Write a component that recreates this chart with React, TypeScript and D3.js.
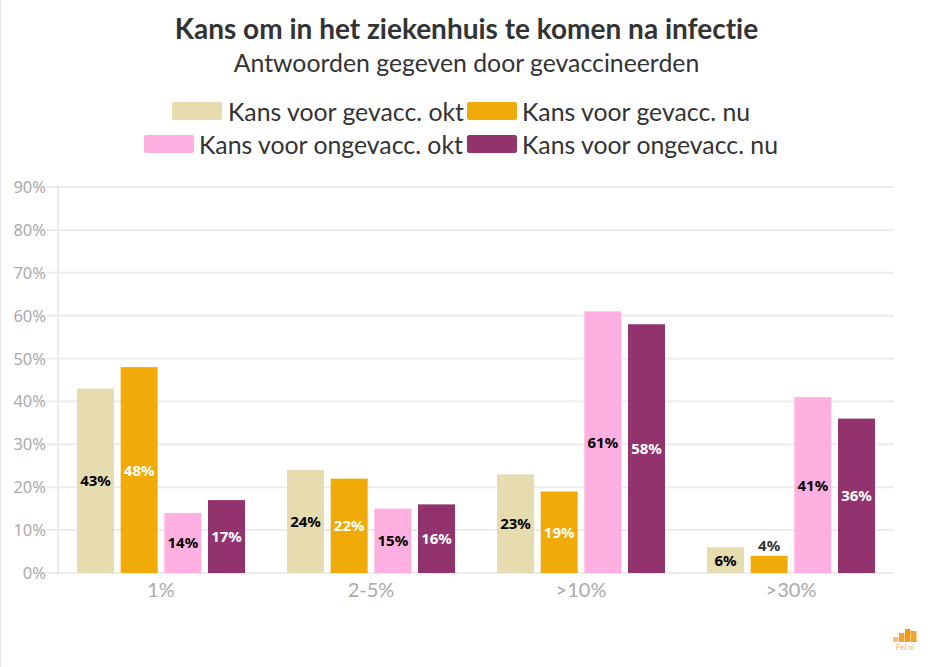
import React, { useEffect, useRef } from "react";
import * as d3 from "d3";

const categories = ["1%", "2-5%", ">10%", ">30%"];
const seriesNames = ["Kans voor gevacc. okt", "Kans voor gevacc. nu", "Kans voor ongevacc. okt", "Kans voor ongevacc. nu"];
const gevaccOkt = [43, 24, 23, 6];
const gevaccNu = [48, 22, 19, 4];
const ongevaccOkt = [14, 15, 61, 41];
const ongevaccNu = [17, 16, 58, 36];
const colors = ["#e6dcb0", "#f0ab08", "#ffb0e0", "#93336e"];
const labelColors = ["#000000", "#ffffff", "#000000", "#ffffff"];
const yTicks = [0, 10, 20, 30, 40, 50, 60, 70, 80, 90];
const FONT = "Lato, 'Open Sans', sans-serif";
const NUM_FONT = "'Noto Sans', sans-serif";

export default function App() {
  const ref = useRef<SVGSVGElement>(null);
  useEffect(() => {
    const svg = d3.select(ref.current!);
    svg.selectAll("*").remove();
    const all = [gevaccOkt, gevaccNu, ongevaccOkt, ongevaccNu];
    const y = d3.scaleLinear().domain([0, 90]).range([573, 187]);
    const x0 = d3.scaleBand<string>().domain(categories).range([57, 897]);
    const x1 = d3.scaleBand<string>().domain(seriesNames).range([20, 188]).paddingInner(0.153).paddingOuter(0);

    svg.append("rect").attr("x", 0).attr("y", 0).attr("width", 1).attr("height", 667).attr("fill", "#e6e6e6");

    svg.append("text").attr("x", 466.5).attr("y", 39).attr("text-anchor", "middle")
      .attr("font-size", 28).attr("font-weight", 700).attr("fill", "#333").style("font-variant-ligatures", "none").text("Kans om in het ziekenhuis te komen na infectie");
    svg.append("text").attr("x", 466.5).attr("y", 72).attr("text-anchor", "middle")
      .attr("font-size", 24.8).attr("fill", "#333").text("Antwoorden gegeven door gevaccineerden");

    const legend = [
      { sx: 172, tx: 228, ty: 121, sy: 102 },
      { sx: 467, tx: 522, ty: 121, sy: 102 },
      { sx: 144, tx: 199, ty: 154, sy: 135 },
      { sx: 467, tx: 522, ty: 154, sy: 135 },
    ];
    legend.forEach((l, i) => {
      svg.append("rect").attr("x", l.sx).attr("y", l.sy).attr("width", 50).attr("height", 18).attr("rx", 2).attr("fill", colors[i]);
      svg.append("text").attr("x", l.tx).attr("y", l.ty).attr("font-size", 24.8).attr("fill", "#333").text(seriesNames[i]);
    });

    const grid = svg.append("g");
    yTicks.forEach((t) => {
      grid.append("line").attr("x1", 47).attr("x2", 894).attr("y1", y(t)).attr("y2", y(t)).attr("stroke", "#ececec").attr("stroke-width", 2);
      svg.append("text").attr("x", 46).attr("y", y(t) + 6).attr("text-anchor", "end").attr("font-size", 16.5).attr("font-family", NUM_FONT).attr("fill", "#aaa").text(t + "%");
    });
    grid.append("line").attr("x1", 58).attr("x2", 58).attr("y1", 187).attr("y2", 573).attr("stroke", "#ececec").attr("stroke-width", 2);

    categories.forEach((c) => {
      const cx = x0(c)! + x0.bandwidth() / 2 - 1;
      svg.append("line").attr("x1", cx).attr("x2", cx).attr("y1", 573).attr("y2", 579).attr("stroke", "#ececec");
      svg.append("text").attr("x", cx).attr("y", 597).attr("text-anchor", "middle").attr("font-size", 20).attr("fill", "#aaa").text(c);
    });

    all.forEach((vals, s) => {
      vals.forEach((v, i) => {
        const bx = x0(categories[i])! + x1(seriesNames[s])!;
        svg.append("rect").attr("x", bx).attr("y", y(v)).attr("width", x1.bandwidth()).attr("height", y(0) - y(v)).attr("fill", colors[s]);
      });
    });
    all.forEach((vals, s) => {
      vals.forEach((v, i) => {
        const cx = x0(categories[i])! + x1(seriesNames[s])! + x1.bandwidth() / 2;
        const outside = v === 4;
        const cy = outside ? y(v) - 10 : (y(v) + y(0)) / 2;
        svg.append("text").attr("x", cx).attr("y", cy + 5.5).attr("text-anchor", "middle")
          .attr("font-size", 15).attr("font-weight", 700).attr("font-family", NUM_FONT)
          .attr("fill", outside ? "#333" : labelColors[s])
          .attr("stroke", outside ? "#fff" : colors[s]).attr("stroke-width", 3).attr("paint-order", "stroke")
          .text(v + "%");
      });
    });

    const logo = svg.append("g");
    const logoBars = [{ o: 0.6, h: 5 }, { o: 0.9, h: 9 }, { o: 1, h: 13 }, { o: 0.9, h: 11 }];
    logoBars.forEach((b, i) => {
      logo.append("rect").attr("x", 893 + i * 6).attr("y", 642 - b.h).attr("width", 5.5).attr("height", b.h).attr("fill", "#f09a1a").attr("opacity", b.o);
    });
    logo.append("text").attr("x", 905).attr("y", 650).attr("text-anchor", "middle").attr("font-size", 7).attr("fill", "#f3b36a").text("Peil.nl");
  }, []);
  return (
    <svg ref={ref} width={931} height={667} fontFamily={FONT}
      style={{ position: "absolute", left: 0, top: 0, background: "#fff" }} />
  );
}
